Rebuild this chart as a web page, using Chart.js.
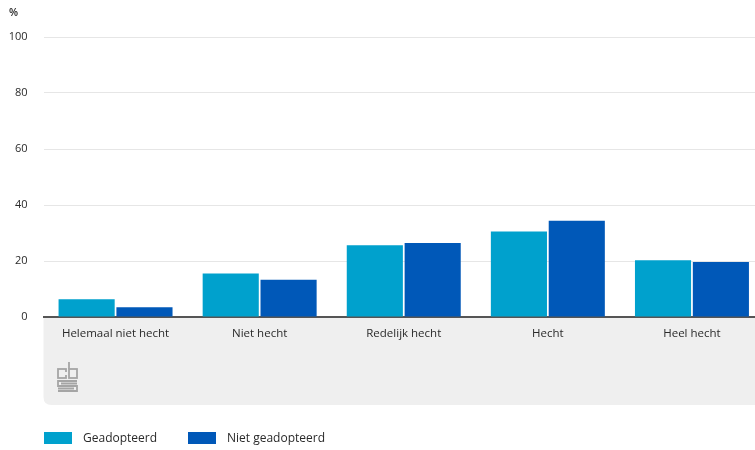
<!DOCTYPE html>
<html>
<head>
<meta charset="utf-8">
<script src="https://cdn.jsdelivr.net/npm/chart.js@4"></script>
<style>
  html, body { margin: 0; padding: 0; background: #fff; overflow: hidden; }
  #wrap { width: 755px; height: 450px; position: relative; overflow: hidden; }
</style>
</head>
<body>
<div id="wrap"><canvas id="c" width="764" height="450"></canvas></div>
<script>
const categories = ["Helemaal niet hecht", "Niet hecht", "Redelijk hecht", "Hecht", "Heel hecht"];
const geadopteerd = [6.3, 15.5, 25.6, 30.5, 20.3];
const nietGeadopteerd = [3.5, 13.3, 26.4, 34.4, 19.6];
const seriesNames = ["Geadopteerd", "Niet geadopteerd"];
const yTicks = [0, 20, 40, 60, 80, 100];
const unitLabel = "%";

const FONT = "'Open Sans', 'Noto Sans', sans-serif";
const TXT = '#2a2a2a';

const decor = {
  id: 'decor',
  beforeDraw(chart) {
    const { ctx, chartArea } = chart;
    const x = chart.scales.x;
    ctx.save();
    const left = chartArea.left, top = chartArea.bottom, right = chart.width, bottom = x.bottom;
    const r = 8;
    ctx.fillStyle = '#efefef';
    ctx.beginPath();
    ctx.moveTo(left, top);
    ctx.lineTo(right, top);
    ctx.lineTo(right, bottom);
    ctx.lineTo(left + r, bottom);
    ctx.quadraticCurveTo(left, bottom, left, bottom - r);
    ctx.closePath();
    ctx.fill();
    // CBS logo glyph
    ctx.strokeStyle = '#a5a5a5';
    ctx.lineWidth = 1.8;
    const lx = 58, ly = 361;
    ctx.strokeRect(lx, ly + 8, 8, 9);
    ctx.fillStyle = '#efefef';
    ctx.fillRect(lx + 6, ly + 11, 4, 3);
    ctx.strokeRect(lx + 11, ly + 8, 8, 9);
    ctx.beginPath();
    ctx.moveTo(lx + 11, ly + 8); ctx.lineTo(lx + 11, ly + 1);
    ctx.stroke();
    ctx.beginPath();
    ctx.moveTo(lx + 19, ly + 20); ctx.lineTo(lx, ly + 20); ctx.lineTo(lx, ly + 25);
    ctx.lineTo(lx + 19, ly + 25); ctx.lineTo(lx + 19, ly + 30); ctx.lineTo(lx, ly + 30);
    ctx.moveTo(lx + 3, ly + 22.5); ctx.lineTo(lx + 19, ly + 22.5);
    ctx.moveTo(lx, ly + 27.5); ctx.lineTo(lx + 16, ly + 27.5);
    ctx.stroke();
    ctx.restore();
  },
  afterDraw(chart) {
    const { ctx } = chart;
    ctx.save();
    ctx.fillStyle = TXT;
    ctx.font = '600 10.5px ' + FONT;
    ctx.textBaseline = 'middle';
    ctx.textAlign = 'left';
    ctx.fillText(unitLabel, 9, 13);
    ctx.font = '12px ' + FONT;
    const pos = [44, 188];
    chart.data.datasets.forEach((ds, i) => {
      const bx = pos[i];
      ctx.fillStyle = ds.backgroundColor;
      ctx.fillRect(bx, 432, 28, 12);
      ctx.fillStyle = TXT;
      ctx.fillText(ds.label, bx + 39, 438.5);
    });
    ctx.restore();
  }
};

new Chart(document.getElementById('c'), {
  type: 'bar',
  data: {
    labels: categories,
    datasets: [
      { label: seriesNames[0], data: geadopteerd, backgroundColor: '#00A1CD' },
      { label: seriesNames[1], data: nietGeadopteerd, backgroundColor: '#0058B8' }
    ]
  },
  options: {
    responsive: false,
    animation: false,
    devicePixelRatio: 1,
    layout: { padding: { top: 37, right: 0, bottom: 45, left: 0 } },
    datasets: { bar: { categoryPercentage: 0.803, barPercentage: 0.97 } },
    plugins: { legend: { display: false }, tooltip: { enabled: false } },
    scales: {
      x: {
        grid: { display: false, drawTicks: false },
        border: { display: true, color: '#555', width: 2 },
        ticks: { color: TXT, font: { family: FONT, size: 11.5 }, padding: 10, maxRotation: 0 },
        afterFit(s) { s.height = 88; }
      },
      y: {
        min: 0, max: 100,
        afterBuildTicks(s) { s.ticks = yTicks.map(v => ({ value: v })); },
        grid: { color: '#e6e6e6', drawTicks: false },
        border: { display: false },
        ticks: { color: TXT, font: { family: FONT, size: 11 }, padding: 16 },
        afterFit(s) { s.width = 43.5; }
      }
    }
  },
  plugins: [decor]
});
</script>
</body>
</html>
